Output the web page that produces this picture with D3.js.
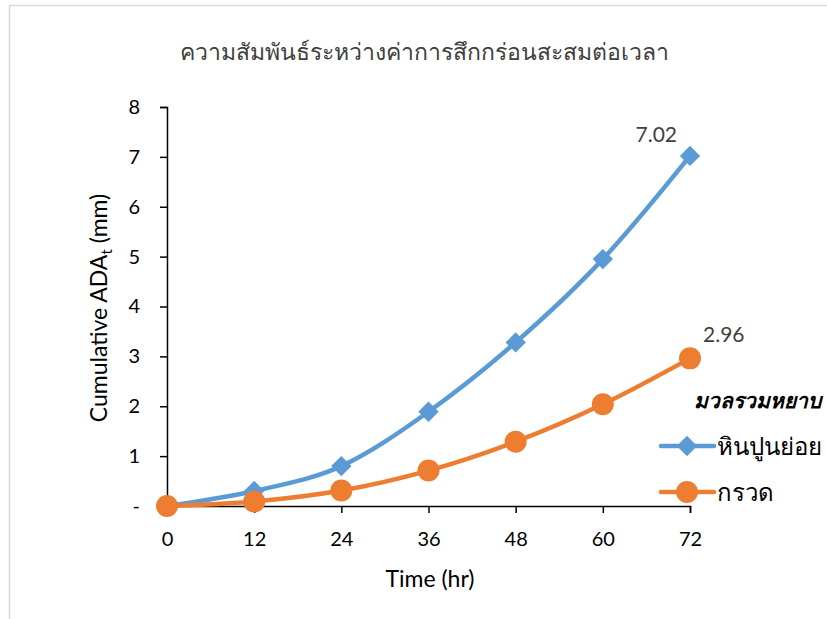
<!DOCTYPE html>
<html>
<head>
<meta charset="utf-8">
<script src="https://cdn.jsdelivr.net/npm/d3@7/dist/d3.min.js"></script>
<style>
  html, body { margin: 0; padding: 0; background: #fff; }
  svg { display: block; font-family: Lato, "Open Sans", "Noto Sans", sans-serif; }
</style>
</head>
<body>
<svg id="chart" width="827" height="619"></svg>
<script>
// Cumulative abrasion over time for two coarse aggregates
const hours = [0, 12, 24, 36, 48, 60, 72];
const limestone = [0, 0.30, 0.80, 1.89, 3.28, 4.95, 7.02];   // หินปูนย่อย
const gravel    = [0, 0.09, 0.31, 0.71, 1.29, 2.04, 2.96];   // กรวด
const yTicks = [0, 1, 2, 3, 4, 5, 6, 7, 8];
const xTicks = [0, 12, 24, 36, 48, 60, 72];
const seriesNames = ["หินปูนย่อย", "กรวด"];
const seriesColors = ["#5b9bd5", "#ed7d31"];

const svg = d3.select("#chart");

// outer chart frame
svg.append("rect")
  .attr("x", 9.5).attr("y", 5.5)
  .attr("width", 840).attr("height", 640)
  .attr("fill", "none").attr("stroke", "#d9d9d9").attr("stroke-width", 1.5);

const x = d3.scaleLinear().domain([0, 72]).range([167, 690]);
const y = d3.scaleLinear().domain([0, 8]).range([506, 107]);

// title
svg.append("text")
  .attr("x", 424).attr("y", 60)
  .attr("text-anchor", "middle")
  .attr("font-size", 23).attr("fill", "#404040")
  .text("ความสัมพันธ์ระหว่างค่าการสึกกร่อนสะสมต่อเวลา");

// y axis
const yAxis = d3.axisLeft(y).tickValues(yTicks).tickSize(7).tickPadding(20)
  .tickFormat(d => d === 0 ? "-" : d);
const gy = svg.append("g").attr("transform", `translate(${x(0)},0)`).call(yAxis);
gy.select(".domain").attr("stroke", "#000").attr("stroke-width", 1.5);
gy.selectAll(".tick line").attr("stroke", "#000").attr("stroke-width", 1.5);
gy.selectAll(".tick text").attr("font-size", 20).attr("fill", "#000")
  .attr("font-family", "Lato, sans-serif");

// x axis
const xAxis = d3.axisBottom(x).tickValues(xTicks).tickSize(7).tickPadding(19);
const gx = svg.append("g").attr("transform", `translate(0,${y(0)})`).call(xAxis);
gx.select(".domain").attr("stroke", "#000").attr("stroke-width", 1.5);
gx.selectAll(".tick line").attr("stroke", "#000").attr("stroke-width", 1.5);
gx.selectAll(".tick text").attr("font-size", 20).attr("fill", "#000")
  .attr("font-family", "Lato, sans-serif");

// axis titles
const yTitle = svg.append("text")
  .attr("transform", "translate(107,308) rotate(-90)")
  .attr("text-anchor", "middle")
  .attr("font-size", 23).attr("fill", "#000");
yTitle.append("tspan").text("Cumulative ADA");
yTitle.append("tspan").attr("font-size", 15).attr("dy", 5).text("t");
yTitle.append("tspan").attr("dy", -5).text(" (mm)");

svg.append("text")
  .attr("x", 430).attr("y", 587)
  .attr("text-anchor", "middle")
  .attr("font-size", 23).attr("fill", "#000")
  .text("Time (hr)");

// smoothed series lines
const line = d3.line()
  .x((d, i) => x(hours[i]))
  .y(d => y(d))
  .curve(d3.curveCatmullRom.alpha(0));

const seriesData = [limestone, gravel];
seriesData.forEach((vals, si) => {
  svg.append("path")
    .datum(vals)
    .attr("d", line)
    .attr("fill", "none")
    .attr("stroke", seriesColors[si])
    .attr("stroke-width", 4.5)
    .attr("stroke-linejoin", "round");
});

// markers
const diamond = d3.symbol().type(d3.symbolDiamond2).size(265);
svg.append("g").selectAll("path")
  .data(limestone)
  .join("path")
  .attr("transform", (d, i) => `translate(${x(hours[i])},${y(d)})`)
  .attr("d", diamond)
  .attr("fill", seriesColors[0]);

svg.append("g").selectAll("circle")
  .data(gravel)
  .join("circle")
  .attr("cx", (d, i) => x(hours[i]))
  .attr("cy", d => y(d))
  .attr("r", 11)
  .attr("fill", seriesColors[1]);

// end-point value labels
const lastLimestone = limestone[limestone.length - 1];
const lastGravel = gravel[gravel.length - 1];
svg.append("text")
  .attr("x", x(72) - 13).attr("y", y(lastLimestone) - 14)
  .attr("text-anchor", "end")
  .attr("font-size", 21).attr("fill", "#404040")
  .text(lastLimestone.toFixed(2));
svg.append("text")
  .attr("x", x(72) + 13).attr("y", y(lastGravel) - 16)
  .attr("text-anchor", "start")
  .attr("font-size", 21).attr("fill", "#404040")
  .text(lastGravel.toFixed(2));

// legend
svg.append("text")
  .attr("x", 821).attr("y", 408)
  .attr("text-anchor", "end")
  .attr("font-size", 21).attr("font-weight", "bold").attr("font-style", "italic")
  .attr("fill", "#000")
  .text("มวลรวมหยาบ");

const legendRows = [446, 492];
seriesNames.forEach((name, i) => {
  const g = svg.append("g").attr("transform", `translate(0,${legendRows[i]})`);
  g.append("line").attr("x1", 661).attr("x2", 714).attr("y1", 0).attr("y2", 0)
    .attr("stroke", seriesColors[i]).attr("stroke-width", 4.5).attr("stroke-linecap", "round");
  if (i === 0) {
    g.append("path").attr("transform", "translate(687,0)").attr("d", diamond).attr("fill", seriesColors[i]);
  } else {
    g.append("circle").attr("cx", 687).attr("cy", 0).attr("r", 11).attr("fill", seriesColors[i]);
  }
  g.append("text").attr("x", 717).attr("y", 9)
    .attr("font-size", 24).attr("fill", "#000")
    .text(name);
});
</script>
</body>
</html>
